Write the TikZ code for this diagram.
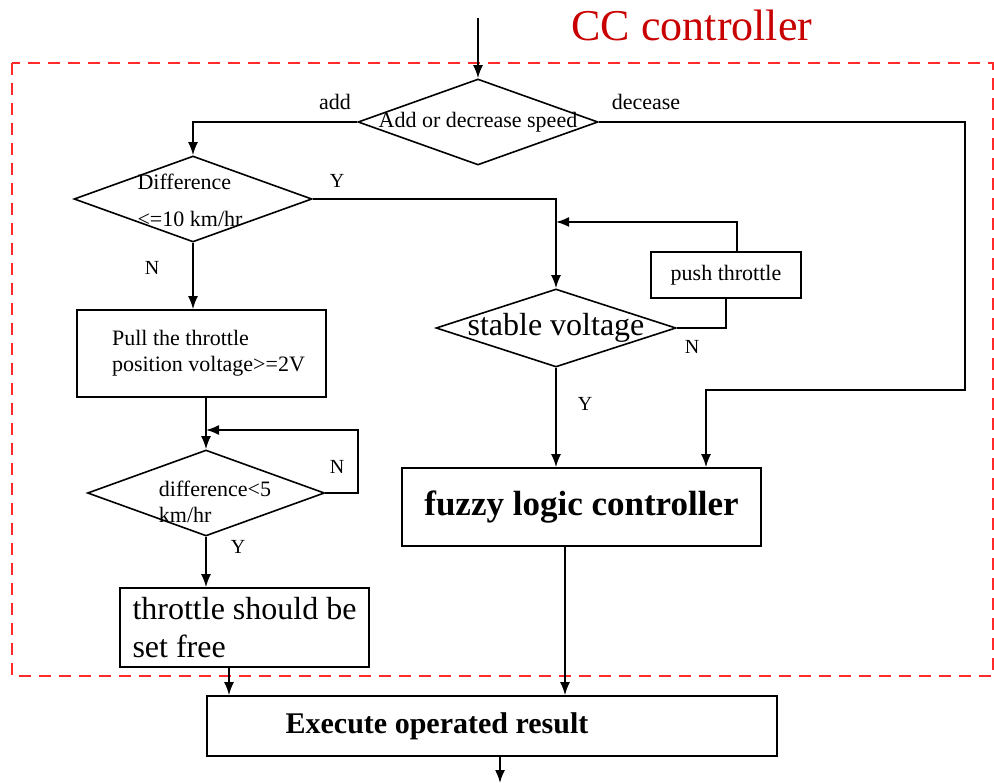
\documentclass[tikz,border=0pt]{standalone}
\usepackage{fontspec}
\setmainfont{Liberation Serif}
\usetikzlibrary{shapes.geometric, arrows.meta, positioning}
\definecolor{ccred}{HTML}{C80000}
\definecolor{boxred}{HTML}{FF2A2A}
\tikzstyle{block}=[draw,fill=white,rectangle,line width=1.6pt,inner sep=0pt]
\tikzstyle{dia}=[draw,diamond,line width=1.6pt,inner sep=0pt]
\tikzstyle{every node}=[font=\fontsize{22}{26}\selectfont]
\tikzstyle{yn}=[font=\fontsize{20}{24}\selectfont]
\newcommand{\bigtxt}[1]{{\fontsize{32}{38}\selectfont #1}}

\begin{document}
\begin{tikzpicture}[x=1pt,y=-1pt,>={Latex[length=13pt,width=10pt]},line width=1.7pt]
    \useasboundingbox (0,0) rectangle (994,783);
    % dashed frame of the controller
    \draw[boxred, line width=2.5pt, dash pattern=on 12pt off 8pt] (12,63) rectangle (993,676);
    \node[text=ccred, font=\fontsize{44}{50}\selectfont] (cc) at (692,25) {CC controller};
    \node[dia, minimum width=240pt, minimum height=86pt,
          label={center:Add or decrease speed}] (d1) at (478,122) {};
    \node[dia, minimum width=238pt, minimum height=86pt] (d2) at (193,199) {};
    \node[align=left, font=\fontsize{22}{37}\selectfont] (d2t) at (190,200) {Difference\\<=10 km/hr};
    \node[block, minimum width=249pt, minimum height=87pt, align=left] (pull) at (201.5,353.5) {\hspace*{14pt}Pull the throttle\\\hspace*{14pt}position voltage>=2V};
    \node[dia, minimum width=237pt, minimum height=86pt] (d4) at (206,493) {};
    \node[align=left] (d4t) at (215,502) {difference<5\\km/hr};
    \node[block, minimum width=249pt, minimum height=79pt, align=left, font=\fontsize{32}{38}\selectfont] (free) at (244.5,627.5) {throttle should be\\set free\hspace*{12pt}};
    \node[dia, minimum width=240pt, minimum height=78pt,
          label={center:\bigtxt{stable voltage}}] (d3) at (556,328) {};
    \node[block, minimum width=150pt, minimum height=46pt] (push) at (726,275) {push throttle};
    \node[block, minimum width=359pt, minimum height=78pt, font=\fontsize{35}{40}\selectfont\bfseries] (fuzzy) at (581.5,507) {fuzzy logic controller};
    \node[block, minimum width=570pt, minimum height=60pt, font=\fontsize{30}{36}\selectfont\bfseries] (exec) at (492,726) {\hspace*{-110pt}Execute operated result};
    % branch labels
    \node (add) at (335,102) {add};
    \node (dec) at (646,102) {decease};
    \node[yn] (y1) at (337,181) {Y};
    \node[yn] (n1) at (152,268) {N};
    \node[yn] (n4) at (337,467) {N};
    \node[yn] (y4) at (238,547) {Y};
    \node[yn] (n3) at (692,347) {N};
    \node[yn] (y3) at (585,404) {Y};
    % corner points
    \coordinate (in) at (478,18);
    \coordinate (r1) at (965,390);
    \coordinate (l4) at (358,430);
    \coordinate (j3) at (556,222);
    \coordinate (out) at (500,783);
    \draw[->] (in) -- (d1.north);
    \draw[->] (d1.west) -| (d2.north);
    \draw[->] (d1.east) -| (r1) -| ([xshift=124.5pt]fuzzy.north);
    \draw[->] (d2.east) -| (d3.north);
    \draw[->] (d2.south) -- (d2.south |- pull.north);
    \draw[->] (pull.south -| d4.north) -- (d4.north);
    \draw[->] (d4.east) -| (l4) -- (l4 -| d4.north);
    \draw[->] (d4.south) -- (d4.south |- free.north);
    \draw[->] ([xshift=-15.5pt]free.south) -- ([xshift=-15.5pt]free.south |- exec.north);
    \draw (d3.east) -| (push.south);
    \draw[->] ([xshift=11pt]push.north) |- (j3);
    \draw[->] (d3.south) -- (d3.south |- fuzzy.north);
    \draw[->] ([xshift=-16.5pt]fuzzy.south) -- ([xshift=-16.5pt]fuzzy.south |- exec.north);
    \draw[->] (exec.south -| out) -- (out);
\end{tikzpicture}
\end{document}
